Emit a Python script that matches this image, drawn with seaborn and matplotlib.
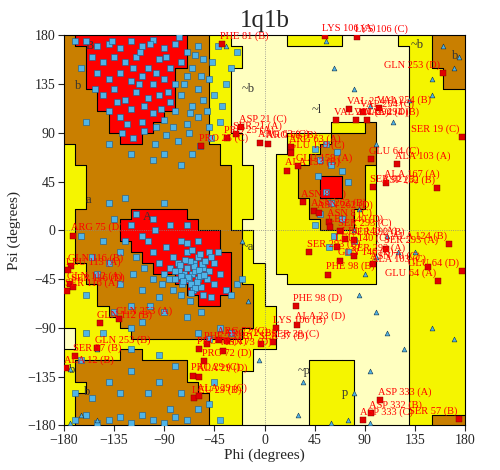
import matplotlib
matplotlib.use('Agg')
import matplotlib.pyplot as plt
from matplotlib.colors import ListedColormap
import numpy as np
import pandas as pd
import seaborn as sns

# region map, 10 degree cells, rows from psi 180 (top) to -180, cols phi -180..180
# R core, B allowed, Y generous, L outside
region_rows = [
    "BRRRRRRRRRRBBYYLLLLLYYYYYLLLLLYYYBBB",
    "BBRRRRRRRRRBBYYYLLLLLLLLLLLLLLLYYBBB",
    "BBRRRRRRRRRBBYYYLLLLLLLLLLLLLLLYYBBB",
    "BBRRRRRRRRBBBYYLLLLLLLLLLLLLLLLYYYBB",
    "BBRRRRRRRRBBBYYLLLLLLLLLLLLLLLLYYYBB",
    "BBBRRRRRRRBBBYYLLLLLLLLLLLLLLLLYYYYY",
    "BBBRRRRRRRBBBYYLLLLLLLLLLLLLLLLYYYYY",
    "BBBBRRRRRBBBBYYLLLLLLLLLLLLLLLLYYYYY",
    "BBBBRRRRBBBBBYYLLLLLLLLLYYYBLLLYYYYY",
    "BBBBBRRBBBBBBYYYLLLLYYYYBBBBLLLYYYYY",
    "YBBBBBBBBBBBBBYYLLLLYYYBBBBBLLLYYYYY",
    "YBBBBBBBBBBBBBYYLLLYYYBBBBBBLLLYYYYY",
    "YYBBBBBBBBBBBBBYYLLYYBBBBBBYLLLYYYYY",
    "YYBBBBBBBBBBBBBYYLLYYBBRRBBYLLLYYYYY",
    "YYBBBBBBBBBBBBBYYLLYYBBRRBBYLLLYYYYY",
    "YYBBBBBBBBBBBBBYYLLYYYBBBBBYLLLYYYYY",
    "YBBBBBRRRRRBBBBYYLLYYYBBBBYYLLLYYYYY",
    "YBBBBRRRRRRRBBBYLLLYYYYBBBYYLLLYYYYY",
    "YBBBBRRRRRRRRRBBYLLYYYYYYYYYLLLYYYYY",
    "YBBBBBRRRRRRRRBBYLLYYYYYYYYYLLLYYYYY",
    "YBBBBBBRRRRRRRRBYLLYYYYYYYYYLLLYYYYY",
    "YYBBBBBBRRRRRRRBYYLYYYYYYYYYLLLYYYYY",
    "YYBBBBBBBBRRRRRBYYLLYYYYYYYYLLLYYYYY",
    "YYYBBBBBBBBRRRRBBYLLLLLLLLLLLLLYYYYY",
    "YYYBBBBBBBBBRRBBBYLLLLLLLLLLLLLYYYYY",
    "YYYYBBBBBBBBBBBBBYYLLLLLLLLLLLLYYYYY",
    "YYYYYBBBBBBBBBBBBYYLLLLLLLLLLLLYYYYY",
    "LYYYYYBBBBBBBBBBYYYLLLLLLLLLLLLYYYYY",
    "LYYYYYYYYYYYYYYYYYYLLLLLLLLLLLLYYYYY",
    "YYYYYBBYYYYYYYYYYLLLLLLLLLLLLLLYYYYY",
    "YBBBBBBBBBBYYYYYYLLLLLYYYYLLLLLYYYYY",
    "YBBBBBBBBBBYYYYYLLLLLLYYYYLLLLLYYYYY",
    "YYBBBBBBBBBBYYYYLLLLLLYYYYLLLLLYYYYY",
    "YBBBBBBBBBBBBYYYLLLLLLYYYYLLLLLYYYYY",
    "YBBBBBBBBBBBBYYYLLLLLLYYYYLLLLLYYYYY",
    "YBBBBBBBBBBBBYYYLLLLLLYYYYLLLLLYYBBB",
]
region_codes = {"L": 0, "Y": 1, "B": 2, "R": 3}
region_colors = ["#FFFFC0", "#F5F500", "#C97F00", "#FF0000"]

beta_phi = [-160,-150,-140,-130,-120,-110,-100,-90,-80,-70,-60,-155,-145,-135,-125,-115,-105,-95,-85,-75,-65,-55,
            -150,-140,-130,-120,-110,-100,-90,-80,-70,-60,-50,-145,-135,-125,-115,-105,-95,-85,-75,-65,-55,-45,
            -140,-130,-120,-110,-100,-90,-80,-70,-60,-50,-128,-118,-108,-98,-88,-78,-68,-58,-48,-40,-38,-35,-30,-25,
            -100,-90,-75,-65,-120,-140,-160,-165,-170,-112,-97,-87,-72,-62,-118,-132,-152,-108,-123,-93,-82,-67,-57,
            -47,-42,-103,-77,-137,-88,-113,-97,-52]
beta_psi = [175,170,172,168,175,170,176,168,172,165,170,160,155,160,155,160,150,158,150,155,150,158,
            145,140,145,138,142,135,140,135,142,130,140,125,130,120,128,122,125,118,125,115,120,125,
            110,105,112,100,108,102,110,98,105,95,90,85,92,80,88,82,90,78,85,100,115,135,150,165,
            65,70,60,70,70,80,100,150,175,165,145,128,135,162,150,118,130,115,98,112,95,108,142,
            155,170,172,178,175,160,135,95,110]
alpha_phi = [-65,-60,-70,-62,-58,-68,-72,-55,-63,-75,-66,-60,-78,-52,-57,-80,-70,-85,-64,-50,-90,-74,-82,-95,-88,
             -100,-92,-105,-110,-98,-120,-115,-125,-108,-130,-75,-60,-50,-45,-45,-55,-75,-95,-110,-130,-140,-145,
             -135,-115,-100,-85,-140,-125,-90,-70,-100,-118,-82,-67,-48,-40,-42,-35,-30,-25,-20,-150,-160,-155,-165,
             -103,-120,-135,-90,-70,-57,-60,-50,-40,-30,-145,-160,-120,-110,-120,-95,-165,
             -63,-67,-61,-71,-56,-59,-69,-73,-77,-54,-65,-62,-58,-66,-70,-86,-80,-76,-53,-48]
alpha_psi = [-40,-45,-35,-38,-42,-45,-40,-35,-30,-42,-50,-25,-30,-45,-52,-45,-20,-35,-55,-38,-40,-50,-25,-30,-15,
             -20,-50,-10,-5,0,5,-25,-10,-35,-20,-10,-10,-20,-30,-50,-60,-60,-62,-55,-50,-30,-10,
             10,15,10,5,25,30,25,5,-45,-40,-55,-65,-62,-40,-20,-55,-60,-50,-45,-40,-60,-25,-5,
             -70,-70,-75,-75,-80,-75,-95,-100,-90,-95,-95,-95,-90,-85,-110,-115,-120,
             -33,-28,-48,-27,-31,-37,-43,-47,-37,-41,-18,-53,-22,-58,-12,-45,-38,-32,-28,-25]
low_phi = [-170,-160,-150,-140,-130,-120,-110,-100,-90,-80,-70,-60,-155,-130,-105,-95,-120,-140,-75,-80,-45,-50,
           -40,-170,-85,45,50,55,60,65,70,48,75,55,60,50,70,45,62,58,75,80]
low_psi = [-175,-170,-178,-175,-172,-178,-170,-175,-178,-172,-175,-165,-155,-150,-150,-140,-130,-140,-150,-125,
           -140,-160,-175,-150,-165,75,65,80,60,72,55,50,45,35,25,15,10,5,-5,-15,-20,-10]

gly_phi = [110,120,100,90,85,100,110,125,95,80,75,95,60,-20,-15,-5,135,150,170,-175,-165,-150,30,35,100,115,130,
           150,175,160,170,150,-35,-150,62,-175,80,95,55,85,80]
gly_psi = [-5,-20,-25,-40,-60,-75,-95,-110,-130,-150,-175,-178,-178,-10,-65,-120,-20,-90,-100,-178,-170,-175,
           -170,-140,80,100,120,125,160,170,150,140,170,-110,150,-128,130,115,175,20,0]

out_phi = [-38,54,83,160,103,88,76,64,82,92,177,-21,-26,-34,-4,3,24,-57,24,20,30,96,119,109,97,155,35,44,49,58,59,68,
           72,65,80,109,97,80,68,40,166,147,177,156,57,-172,-174,-176,-175,-172,-177,-131,-148,-150,-170,-178,28,29,
           10,8,-3,-41,-34,-52,-59,-37,-54,-64,-59,-63,-59,104,96,88,175]
out_psi = [172,179,178,145,113,109,112,102,102,102,86,95,89,85,81,80,77,78,71,55,59,66,61,44,40,39,26,18,16,8,3,-1,
           -8,-15,-9,-17,-31,-24,-28,-20,-13,-34,-38,-47,-41,-5,-33,-37,-50,-52,-56,-82,-86,-109,-116,-127,-70,-87,
           -90,-103,-105,-101,-102,-105,-110,-111,-121,-134,-135,-155,-153,-157,-169,-175,-174]
out_labels = ["PHE 81 (B)","LYS 106 (A)","LYS 106 (C)","GLN 253 (D)","VAL 254 (B)","VAL 254 (C)","VAL 254 (A)",
              "VAL 294 (A)","VAL 294 (D)","VAL 294 (B)","SER 19 (C)","ASP 21 (C)","SER 21 (A)","PRO 25 (A)",
              "ARG 63 (C)","ARG 63 (B)","ARG 63 (A)","PRO 25 (C)","GLU 159 (C)","ALA 133 (B)","GLU 159 (A)",
              "GLU 64 (C)","ALA 103 (A)","ALA 167 (A)","SER 92 (B)","ASP 252 (B)","ASN 8 (B)","ASN 262 (B)",
              "ASN 262 (D)","ASN 8 (C)","LEU 140 (D)","SER 293 (C)","LEU 140 (A)","LEU 140 (C)","SER 292 (B)",
              "SER 293 (A)","ASN 70 (C)","SER 292 (A)","GLN 140 (B)","SER 293 (B)","ALA 124 (B)","ALA 103 (C)",
              "GLU 64 (D)","GLU 64 (A)","PHE 98 (B)","ARG 75 (D)","GLN 116 (B)","LEU 113 (A)","GLN 112 (A)",
              "SER 116 (D)","SER 116 (A)","GLN 253 (A)","GLN 112 (B)","GLN 253 (B)","SER 97 (B)","ALA 12 (B)",
              "PHE 98 (D)","ALA 23 (D)","LYS 106 (B)","SER 38 (C)","SER 37 (D)","ARG 72 (C)","ARG 72 (B)",
              "PHE 73 (B)","PRO 72 (A)","ASN 73 (D)","PRO 72 (D)","PRO 29 (C)","ALA 29 (D)","LEU 29 (B)",
              "ALA 29 (C)","ASP 333 (A)","ASP 332 (B)","ASP 333 (C)","SER 57 (B)"]

region_letters = ["B", "b", "A", "a", "~b", "~a", "~b", "b", "~l", "b", "b", "~p", "p"]
letter_phi = [-157, -167, -105, -158, -15, -15, 137, 171, 47, -173, -159, 36, 72]
letter_psi = [170, 133, 12, 28, 130, -15, 171, 161, 111, -129, -149, -130, -150]

sns.set_style("white")
plt.rcParams['font.family'] = ['Liberation Serif', 'DejaVu Serif']

fig = plt.figure(figsize=(5, 4.7), dpi=100)
ax = fig.add_axes([0.128, 0.095, 0.802, 0.83])

grid = np.array([[region_codes[c] for c in row] for row in region_rows])[::-1]
edges = np.arange(-180, 181, 10)
ax.pcolormesh(edges, edges, grid, cmap=ListedColormap(region_colors), vmin=-0.5, vmax=3.5)

# black step lines between region classes
for i in range(36):
    for j in range(36):
        if j < 35 and grid[i, j] != grid[i, j + 1]:
            ax.plot([edges[j + 1]] * 2, [edges[i], edges[i + 1]], color='black', lw=0.8)
        if i < 35 and grid[i, j] != grid[i + 1, j]:
            ax.plot([edges[j], edges[j + 1]], [edges[i + 1]] * 2, color='black', lw=0.8)

ax.axhline(0, color='#888888', lw=0.6, ls=':')
ax.axvline(0, color='#888888', lw=0.6, ls=':')

for t, x, y in zip(region_letters, letter_phi, letter_psi):
    ax.text(x, y, t, fontsize=9, color='#333333', ha='center', va='center')

pts = pd.DataFrame({'phi': beta_phi + alpha_phi + low_phi, 'psi': beta_psi + alpha_psi + low_psi})
sns.scatterplot(data=pts, x='phi', y='psi', marker='s', s=15, color='#4FB4E8',
                edgecolor='#1E5A88', linewidth=0.4, ax=ax, zorder=3)
gly = pd.DataFrame({'phi': gly_phi, 'psi': gly_psi})
sns.scatterplot(data=gly, x='phi', y='psi', marker='^', s=12, color='#4FB4E8',
                edgecolor='#10304A', linewidth=0.4, ax=ax, zorder=3)
outl = pd.DataFrame({'phi': out_phi, 'psi': out_psi})
sns.scatterplot(data=outl, x='phi', y='psi', marker='s', s=16, color='#E00000',
                edgecolor='#800000', linewidth=0.3, ax=ax, zorder=4)
for x, y, t in zip(out_phi, out_psi, out_labels):
    ax.text(x - 2, y + 3, t, fontsize=7.5, color='#FF0000', ha='right' if x > 120 else 'left',
            va='bottom', zorder=5)

ax.set_xlim(-180, 180)
ax.set_ylim(-180, 180)
ticks = [-180, -135, -90, -45, 0, 45, 90, 135, 180]
ax.set_xticks(ticks)
ax.set_yticks(ticks)
ax.tick_params(direction='out', length=4, labelsize=10, left=True, bottom=True, pad=2)
ax.set_xlabel('Phi (degrees)', fontsize=11, labelpad=1)
ax.set_ylabel('Psi (degrees)', fontsize=11)
ax.set_title('1q1b', fontsize=18, pad=6)
for s in ax.spines.values():
    s.set_color('black')

fig.savefig('out.png', dpi=100)
